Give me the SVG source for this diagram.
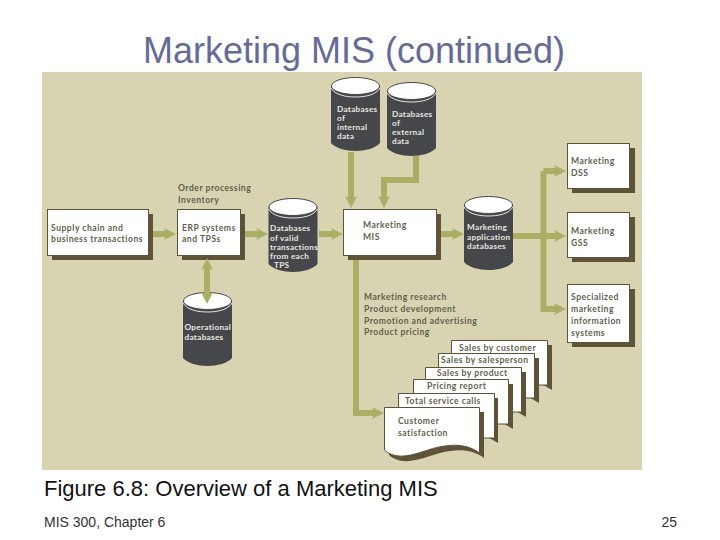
<svg xmlns="http://www.w3.org/2000/svg" width="720" height="540" viewBox="0 0 720 540">
<style>
.s{font-family:"Liberation Sans",Arial,sans-serif}
.t{font-family:"Lato","Open Sans",sans-serif;font-size:8.6px;font-weight:700;fill:#5f5f4c;letter-spacing:.5px}
.w{fill:#e8e8e0;font-size:8.2px;letter-spacing:.3px}
.box{fill:#fff;stroke:#5e5238;stroke-width:1}
.sh{fill:#5e5238}
.db{fill:#45474a}
.top{fill:#fff;stroke:#45474a;stroke-width:1}
.rim{fill:none;stroke:#e8e8e0;stroke-width:1}
.c{fill:none;stroke:#a9b064;stroke-width:6;stroke-linejoin:miter}
.h{fill:#a9b064}
</style>
<defs>
<g id="cyl">
<path class="db" d="M0 9V66C4 71 15 74 24.500 74S45 71 49 66V9Z"/>
<ellipse class="top" cx="24.500" cy="9" rx="24" ry="8.500"/>
<path class="rim" d="M0 11C4 18 15 20 24.500 20S45 18 49 11"/>
</g>
<path id="ar" class="h" d="M0 -6L12 0L0 6L3 0Z" transform="translate(-12 0)"/>
</defs>
<rect width="720" height="540" fill="#fff"/>
<text class="s" x="354" y="63" font-size="36" text-anchor="middle" fill="#666a96">Marketing MIS (continued)</text>
<rect x="42" y="72" width="600" height="398" fill="#d8d4b2"/>

<g id="n-supply"><rect class="sh" x="52" y="214" width="101" height="46"/><rect class="box" x="47.500" y="209.500" width="101" height="46"/>
<text class="t"><tspan x="51" y="230.500">Supply chain and</tspan><tspan x="51" y="242">business transactions</tspan></text></g>
<g id="n-erp"><rect class="sh" x="182" y="214" width="63" height="46"/><rect class="box" x="177.500" y="209.500" width="63" height="46"/>
<text class="t"><tspan x="182" y="230.500">ERP systems</tspan><tspan x="182" y="242">and TPSs</tspan></text></g>
<text id="l-order" class="t"><tspan x="178" y="191">Order processing</tspan><tspan x="178" y="203">Inventory</tspan></text>
<g id="n-valid"><use href="#cyl" x="268.500" y="198"/>
<text class="t w"><tspan x="270" y="231">Databases</tspan><tspan x="270" y="240.500">of valid</tspan><tspan x="270" y="249.500">transactions</tspan><tspan x="270" y="258.500">from each</tspan><tspan x="274" y="268">TPS</tspan></text></g>
<g id="n-operational"><use href="#cyl" x="183" y="292"/>
<text class="t w"><tspan x="184.500" y="330">Operational</tspan><tspan x="184.500" y="340">databases</tspan></text></g>
<g id="n-internal"><use href="#cyl" x="331" y="77"/>
<text class="t w"><tspan x="337" y="112">Databases</tspan><tspan x="337" y="121">of</tspan><tspan x="337" y="130">internal</tspan><tspan x="337" y="139">data</tspan></text></g>
<g id="n-external"><use href="#cyl" x="387" y="82"/>
<text class="t w"><tspan x="392" y="117">Databases</tspan><tspan x="392" y="126">of</tspan><tspan x="392" y="134.500">external</tspan><tspan x="392" y="143.500">data</tspan></text></g>
<g id="n-mis"><rect class="sh" x="348" y="214" width="93" height="46"/><rect class="box" x="343.500" y="209.500" width="93" height="46"/>
<text class="t"><tspan x="363" y="228">Marketing</tspan><tspan x="363" y="239.500">MIS</tspan></text></g>
<g id="n-app"><use href="#cyl" x="464" y="196"/>
<text class="t w"><tspan x="467" y="230">Marketing</tspan><tspan x="467" y="240">application</tspan><tspan x="467" y="249">databases</tspan></text></g>
<g id="n-dss"><rect class="sh" x="572" y="148" width="63" height="45"/><rect class="box" x="567.500" y="143.500" width="62" height="45"/>
<text class="t"><tspan x="571" y="164">Marketing</tspan><tspan x="571" y="175.500">DSS</tspan></text></g>
<g id="n-gss"><rect class="sh" x="572" y="217" width="63" height="45"/><rect class="box" x="567.500" y="212.500" width="62" height="45"/>
<text class="t"><tspan x="571" y="234">Marketing</tspan><tspan x="571" y="245.500">GSS</tspan></text></g>
<g id="n-special"><rect class="sh" x="572" y="289" width="63" height="58"/><rect class="box" x="567.500" y="284.500" width="62" height="58"/>
<text class="t"><tspan x="571" y="300">Specialized</tspan><tspan x="571" y="312">marketing</tspan><tspan x="571" y="323.500">information</tspan><tspan x="571" y="335.500">systems</tspan></text></g>
<text id="l-research" class="t"><tspan x="364" y="300">Marketing research</tspan><tspan x="364" y="312">Product development</tspan><tspan x="364" y="323.500">Promotion and advertising</tspan><tspan x="364" y="335">Product pricing</tspan></text>

<g id="n-r1"><path class="sh" d="M452 345H552V390L540 383H452Z"/><path class="box" d="M451.500 340.500H547.500V385H451.500Z"/><text class="t" x="459" y="350.500">Sales by customer</text></g>
<g id="n-r2"><path class="sh" d="M439 358H539V403L527 396H439Z"/><path class="box" d="M438.500 353.500H534.500V398H438.500Z"/><text class="t" x="441" y="363">Sales by salesperson</text></g>
<g id="n-r3"><path class="sh" d="M425 372H526V417L514 410H425Z"/><path class="box" d="M425.500 367.500H521.500V412H425.500Z"/><text class="t" x="437" y="376">Sales by product</text></g>
<g id="n-r4"><path class="sh" d="M413 384H513V429L501 422H413Z"/><path class="box" d="M413.500 379.500H508.500V424H413.500Z"/><text class="t" x="427" y="389">Pricing report</text></g>
<g id="n-r5"><path class="sh" d="M398 398H498V443L486 436H398Z"/><path class="box" d="M398.500 393.500H494.500V438H398.500Z"/><text class="t" x="405" y="403.500">Total service calls</text></g>
<g id="n-r6"><path class="sh" d="M389 412H484V458C470 447 450 449 430 456S398 463 389 455Z"/>
<path class="box" d="M384.500 407.500H479.500V453C465 442 445 444 425 451S393 458 384.500 450Z"/>
<text class="t"><tspan x="398" y="423.500">Customer</tspan><tspan x="398" y="435.500">satisfaction</tspan></text></g>

<g id="connectors">
<path class="c" d="M153 234H169"/><use href="#ar" transform="translate(176 234)"/>
<path class="c" d="M245 234H262"/><use href="#ar" transform="translate(268 234)"/>
<path class="c" d="M319 234H337"/><use href="#ar" transform="translate(343 234)"/>
<path class="c" d="M441 234H458"/><use href="#ar" transform="translate(464 234)"/>
<path class="c" d="M207 266V297"/><use href="#ar" transform="translate(207 258) rotate(-90)"/>
<use href="#ar" transform="translate(207 304) rotate(90)"/>
<path class="c" d="M351 152V200"/><use href="#ar" transform="translate(351 208) rotate(90)"/>
<path class="c" d="M416 156V180H384V200"/><use href="#ar" transform="translate(384 208) rotate(90)"/>
<path class="c" d="M513 236H560M543.500 171V309H560M543.500 171H560"/>
<use href="#ar" transform="translate(566 171)"/><use href="#ar" transform="translate(566 236)"/><use href="#ar" transform="translate(566 309)"/>
<path class="c" d="M356 260V413H376"/><use href="#ar" transform="translate(384 413)"/>
</g>

<text class="s" x="44" y="496" font-size="22" fill="#111">Figure 6.8: Overview of a Marketing MIS</text>
<text class="s" x="44" y="527" font-size="14" fill="#333">MIS 300, Chapter 6</text>
<text class="s" x="677" y="527" font-size="14" fill="#333" text-anchor="end">25</text>
</svg>
